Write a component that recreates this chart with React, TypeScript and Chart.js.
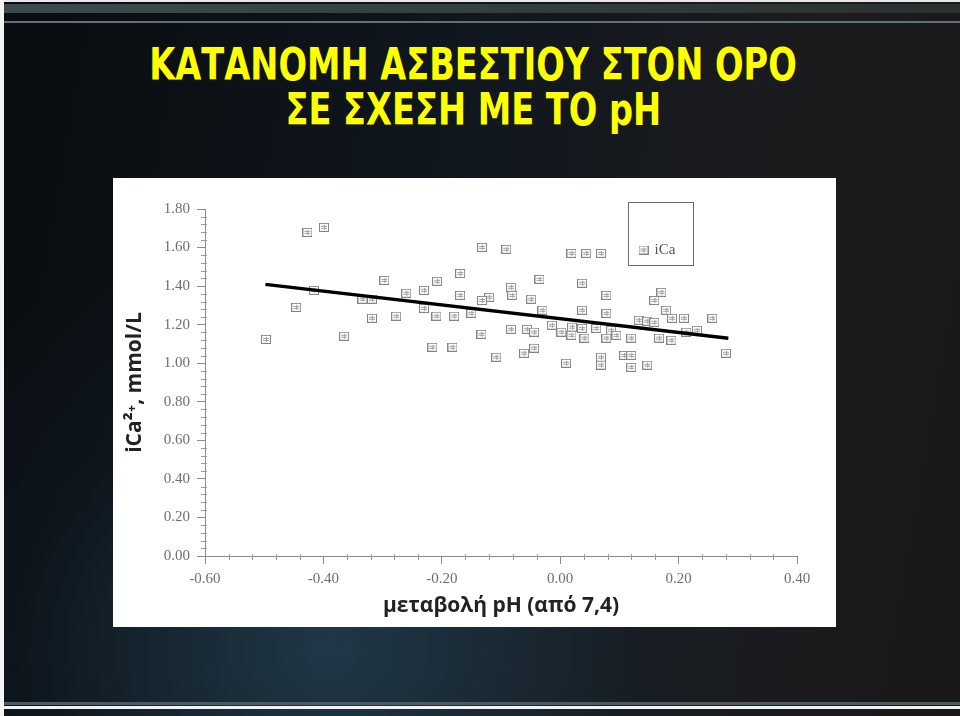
import React, { useEffect, useRef } from "react";
import { Chart, registerables } from "chart.js";

Chart.register(...registerables);

// ---- data ----
const titleLines = ["ΚΑΤΑΝΟΜΗ ΑΣΒΕΣΤΙΟΥ ΣΤΟΝ ΟΡΟ", "ΣΕ ΣΧΕΣΗ ΜΕ ΤΟ pH"];
const xAxisTitle = "μεταβολή pH (από 7,4)";
const yAxisTitle = "iCa²⁺, mmol/L";
const seriesLabel = "iCa";

const phChange = [
  -0.497, -0.446, -0.427, -0.399, -0.416, -0.365, -0.334, -0.318, -0.318, -0.297, -0.277, -0.26,
  -0.23, -0.208, -0.169, -0.169, -0.132, -0.091, -0.083, -0.081, -0.12, -0.132, -0.035, -0.049,
  -0.23, -0.209, -0.179, -0.15, -0.133, -0.083, -0.056, -0.044, -0.216, -0.182, -0.108, -0.061,
  -0.044, -0.03, -0.014, 0.019, 0.044, 0.069, 0.037, 0.078, 0.037, 0.078, 0.002, 0.02, 0.037,
  0.019, 0.041, 0.061, 0.086, 0.095, 0.078, 0.12, 0.133, 0.147, 0.159, 0.171, 0.159, 0.179,
  0.189, 0.209, 0.231, 0.213, 0.167, 0.188, 0.257, 0.069, 0.069, 0.108, 0.12, 0.12, 0.147, 0.01,
  0.28,
];
const ionizedCa = [
  1.124, 1.29, 1.679, 1.705, 1.378, 1.14, 1.332, 1.332, 1.233, 1.43, 1.244, 1.363,
  1.378, 1.425, 1.466, 1.352, 1.601, 1.591, 1.394, 1.352, 1.342, 1.326, 1.435, 1.332,
  1.285, 1.244, 1.244, 1.259, 1.15, 1.176, 1.176, 1.161, 1.083, 1.083, 1.031, 1.052,
  1.078, 1.275, 1.197, 1.57, 1.57, 1.57, 1.415, 1.352, 1.275, 1.259, 1.161, 1.187, 1.181,
  1.145, 1.13, 1.181, 1.171, 1.145, 1.13, 1.13, 1.223, 1.218, 1.212, 1.368, 1.326, 1.275,
  1.233, 1.233, 1.171, 1.161, 1.13, 1.119, 1.233, 1.031, 0.99, 1.041, 1.041, 0.979, 0.99, 1.0,
  1.052,
];
const trendX = [-0.498, 0.284];
const trendY = [1.409, 1.13];

const xMin = -0.6;
const xMax = 0.4;
const yMin = 0;
const yMax = 1.8;
const majorStep = 0.2;
const minorStep = 0.04;

function makeMarker(): HTMLCanvasElement {
  const c = document.createElement("canvas");
  c.width = 10;
  c.height = 9;
  const g = c.getContext("2d")!;
  g.fillStyle = "#ffffff";
  g.fillRect(0, 0, 10, 9);
  g.strokeStyle = "#858585";
  g.lineWidth = 1;
  g.strokeRect(0.5, 0.5, 9, 8);
  g.strokeStyle = "#a0a0a0";
  g.beginPath();
  g.moveTo(2, 3.5);
  g.lineTo(8, 3.5);
  g.moveTo(2, 5.5);
  g.lineTo(8, 5.5);
  g.moveTo(5.5, 2);
  g.lineTo(5.5, 7);
  g.stroke();
  return c;
}

const minorTicksPlugin = {
  id: "minorTicks",
  afterDraw(chart: any) {
    const ctx = chart.ctx;
    const xs = chart.scales.x;
    const ys = chart.scales.y;
    ctx.save();
    ctx.strokeStyle = "#9a9a9a";
    ctx.lineWidth = 1;
    ctx.beginPath();
    const nx = Math.round((xMax - xMin) / minorStep);
    for (let i = 0; i <= nx; i++) {
      if (i % 5 === 0) continue;
      const px = Math.round(xs.getPixelForValue(xMin + i * minorStep)) + 0.5;
      ctx.moveTo(px, ys.bottom - 2);
      ctx.lineTo(px, ys.bottom + 4);
    }
    const ny = Math.round((yMax - yMin) / minorStep);
    for (let i = 0; i <= ny; i++) {
      if (i % 5 === 0) continue;
      const py = Math.round(ys.getPixelForValue(yMin + i * minorStep)) + 0.5;
      ctx.moveTo(xs.left - 4, py);
      ctx.lineTo(xs.left + 2, py);
    }
    ctx.stroke();
    ctx.restore();
  },
};

const boxLegendPlugin = {
  id: "boxLegend",
  afterDraw(chart: any) {
    const ctx = chart.ctx;
    const area = chart.chartArea;
    const bx = Math.round(area.left + 423) + 0.5;
    const by = Math.round(area.top - 7) + 0.5;
    ctx.save();
    ctx.strokeStyle = "#6a6a6a";
    ctx.lineWidth = 1;
    ctx.strokeRect(bx, by, 65, 63);
    const marker = chart.data.datasets[1].pointStyle as HTMLCanvasElement;
    ctx.drawImage(marker, bx + 10, by + 43);
    ctx.fillStyle = "#555555";
    ctx.font = "15px 'Liberation Serif'";
    ctx.textBaseline = "middle";
    ctx.fillText(chart.data.datasets[1].label, bx + 26, by + 48);
    ctx.restore();
  },
};

function ScatterChart() {
  const ref = useRef<HTMLCanvasElement | null>(null);
  useEffect(() => {
    if (!ref.current) return;
    const marker = makeMarker();
    const tickFont = { family: "'Liberation Serif', serif", size: 15 };
    const chart = new Chart(ref.current, {
      type: "scatter",
      data: {
        datasets: [
          {
            type: "line",
            label: "trend",
            data: trendX.map((x, i) => ({ x, y: trendY[i] })),
            borderColor: "#000000",
            borderWidth: 3.5,
            pointRadius: 0,
            fill: false,
          } as any,
          {
            label: seriesLabel,
            data: phChange.map((x, i) => ({ x, y: ionizedCa[i] })),
            pointStyle: marker as any,
            pointRadius: 5,
            showLine: false,
          },
        ],
      },
      options: {
        animation: false,
        responsive: false,
        maintainAspectRatio: false,
        layout: { padding: { top: 31, right: 39, left: 0, bottom: 0 } },
        plugins: { legend: { display: false }, tooltip: { enabled: false } },
        scales: {
          x: {
            type: "linear",
            min: xMin,
            max: xMax,
            afterFit: (s: any) => {
              s.height = 71;
            },
            ticks: {
              stepSize: majorStep,
              autoSkip: false,
              maxRotation: 0,
              padding: 6,
              color: "#6e6e6e",
              font: tickFont,
              callback: (v: any) => Number(v).toFixed(2),
            },
            grid: { drawOnChartArea: false, drawTicks: true, tickLength: 8, color: "#8a8a8a" },
            border: { display: true, color: "#8a8a8a", width: 1 },
            title: {
              display: true,
              text: xAxisTitle,
              color: "#222222",
              font: { family: "'Open Sans', sans-serif", weight: "bold", size: 21 },
              padding: { top: 0, bottom: 8 },
            },
          },
          y: {
            type: "linear",
            min: yMin,
            max: yMax,
            afterFit: (s: any) => {
              s.width = 92;
            },
            ticks: {
              stepSize: majorStep,
              autoSkip: false,
              padding: 7,
              color: "#6e6e6e",
              font: tickFont,
              callback: (v: any) => Number(v).toFixed(2),
            },
            grid: { drawOnChartArea: false, drawTicks: true, tickLength: 8, color: "#8a8a8a" },
            border: { display: true, color: "#8a8a8a", width: 1 },
            title: {
              display: true,
              text: yAxisTitle,
              color: "#222222",
              font: { family: "'Open Sans', sans-serif", weight: "bold", size: 21 },
              padding: { top: 9, bottom: 0 },
            },
          },
        },
      },
      plugins: [minorTicksPlugin, boxLegendPlugin],
    });
    return () => chart.destroy();
  }, []);
  return <canvas ref={ref} width={723} height={449} style={{ display: "block", width: 723, height: 449 }} />;
}

export default function App() {
  return (
    <div
      style={{
        position: "fixed",
        left: 0,
        top: 0,
        width: 960,
        height: 716,
        overflow: "hidden",
        background:
          "radial-gradient(ellipse 520px 420px at 330px 650px, rgba(38,70,90,0.7), rgba(20,36,48,0.3) 60%, rgba(0,0,0,0) 100%), linear-gradient(100deg, #090c10 0%, #10171e 45%, #1b1b1e 75%, #1a1718 100%)",
      }}
    >
      {/* top decorative bands */}
      <div style={{ position: "absolute", left: 0, top: 0, width: 960, height: 2, background: "#e8e8e8" }} />
      <div style={{ position: "absolute", left: 0, top: 4, width: 960, height: 9, background: "linear-gradient(90deg, #3b4b50, #33403f 50%, #2a2f30)" }} />
      <div style={{ position: "absolute", left: 0, top: 21, width: 960, height: 2, background: "#62707a" }} />
      {/* bottom bands */}
      <div style={{ position: "absolute", left: 0, top: 702, width: 960, height: 3, background: "#4c5a62" }} />
      <div style={{ position: "absolute", left: 0, top: 706, width: 960, height: 3, background: "#f2f2f2" }} />
      {/* left white edge */}
      <div style={{ position: "absolute", left: 0, top: 0, width: 4, height: 716, background: "#f4f4f4" }} />

      <div
        style={{
          position: "absolute",
          left: 0,
          top: 42,
          width: 946,
          textAlign: "center",
          color: "#ffff00",
          fontFamily: "'DejaVu Sans Condensed', 'DejaVu Sans', sans-serif",
          fontWeight: "bold",
          fontSize: 45,
          lineHeight: "45px",
        }}
      >
        {titleLines.map((t) => (
          <div key={t}>
            <span style={{ display: "inline-block", transform: "scaleX(0.83)", whiteSpace: "nowrap" }}>{t}</span>
          </div>
        ))}
      </div>

      <div style={{ position: "absolute", left: 113, top: 178, width: 723, height: 449, background: "#ffffff" }}>
        <ScatterChart />
      </div>
    </div>
  );
}
